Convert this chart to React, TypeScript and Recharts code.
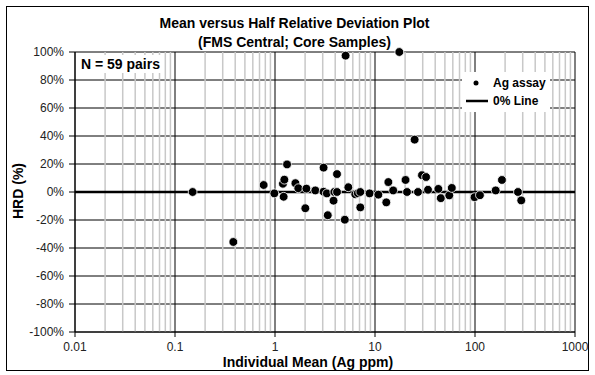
import { ScatterChart, Scatter, XAxis, YAxis, CartesianGrid, ReferenceLine, Legend } from 'recharts'

// Ag duplicate pairs: individual mean (ppm) vs half relative deviation (%)
const meanPpm = [
  0.15, 0.383, 0.77, 0.985, 1.2, 1.24, 1.22, 1.32, 1.6, 1.71,
  2.06, 2.01, 2.53, 3.06, 3.06, 3.3, 3.92, 4.17, 4.17, 3.85,
  3.37, 4.99, 5.08, 5.41, 6.35, 6.73, 7.13, 7.13, 8.83, 10.8,
  12.97, 13.6, 15.2, 17.5, 20.2, 20.9, 24.9, 26.9, 29.5, 32.4,
  33.9, 43.0, 45.5, 55.3, 58.6, 98.9, 112, 161, 186, 269, 290,
]
const hrdPct = [
  0, -35.7, 5.0, -1.0, 5.9, 8.8, -3.4, 19.7, 6.3, 2.7,
  2.4, -11.6, 1.1, 17.4, 0.2, -1.0, 0, 0, 12.8, -6.2,
  -16.6, -19.8, 97.4, 3.4, -1.6, -0.9, 0, -11.0, -1.0, -1.9,
  -7.4, 7.1, 1.1, 100, 8.6, 0, 37.4, 0, 12.0, 10.7,
  1.6, 2.2, -4.4, -2.4, 2.9, -3.7, -2.3, 1.1, 8.6, 0, -6.0,
]

const xTicks = [0.01, 0.1, 1, 10, 100, 1000]
const yTicks = [-100, -80, -60, -40, -20, 0, 20, 40, 60, 80, 100]
const decades = [0.01, 0.1, 1, 10, 100]
const steps = [2, 3, 4, 5, 6, 7, 8, 9]
const minorTicks = decades.flatMap((d) => steps.map((s) => +(d * s).toPrecision(3)))

const legendItems = [
  { label: 'Ag assay', kind: 'dot' },
  { label: '0% Line', kind: 'line' },
]

const points = meanPpm.map((m, i) => ({ mean: m, hrd: hrdPct[i] }))

const font = '"Liberation Sans", Arial, sans-serif'

const Dot = (props: any) => (
  <circle cx={props.cx} cy={props.cy} r={4.4} fill="#000" stroke="#fff" strokeWidth={0.8} />
)

const LegendBox = () => (
  <div style={{ background: '#fff', fontFamily: font, fontWeight: 'bold', fontSize: 12, padding: '2px 4px' }}>
    {legendItems.map((it) => (
      <div key={it.label} style={{ display: 'flex', alignItems: 'center', height: 18 }}>
        <svg width={24} height={10} style={{ marginRight: 3 }}>
          {it.kind === 'dot' ? (
            <circle cx={10} cy={5} r={2.5} fill="#000" />
          ) : (
            <line x1={0} y1={5} x2={22} y2={5} stroke="#000" strokeWidth={2.5} />
          )}
        </svg>
        <span>{it.label}</span>
      </div>
    ))}
  </div>
)

export default function App() {
  return (
    <div style={{ position: 'relative', width: 595, height: 375, background: '#fff', fontFamily: font }}>
      <style>{'body{margin:0}'}</style>
      <div style={{ position: 'absolute', left: 6, top: 6, width: 581, height: 363, border: '1.5px solid #000' }} />
      <ScatterChart width={595} height={375} margin={{ top: 52, right: 20, bottom: 3, left: 15 }}>
        {minorTicks.map((v) => (
          <ReferenceLine key={v} x={v} stroke="#c8c8c8" strokeWidth={1.5} />
        ))}
        <CartesianGrid stroke="#000" strokeWidth={1} />
        <XAxis
          type="number"
          dataKey="mean"
          scale="log"
          domain={[0.01, 1000]}
          ticks={xTicks}
          allowDataOverflow
          height={40}
          tickSize={5}
          tickMargin={5}
          stroke="#000"
          tick={{ fill: '#222', fontSize: 12, fontFamily: font }}
        />
        <YAxis
          type="number"
          dataKey="hrd"
          domain={[-100, 100]}
          ticks={yTicks}
          width={60}
          tickSize={6}
          tickMargin={5}
          stroke="#000"
          tickFormatter={(v: number) => `${v}%`}
          tick={{ fill: '#222', fontSize: 12, fontFamily: font }}
        />
        <ReferenceLine y={0} stroke="#000" strokeWidth={2.5} />
        <Scatter data={points} shape={Dot} isAnimationActive={false} />
        <Legend
          layout="horizontal"
          verticalAlign="middle"
          align="center"
          wrapperStyle={{ left: 462, top: 72, width: 'auto' }}
          content={<LegendBox />}
        />
      </ScatterChart>
      <div style={{ position: 'absolute', left: 0, width: 589, top: 14, textAlign: 'center', fontWeight: 'bold', fontSize: 14, lineHeight: '19px' }}>
        Mean versus Half Relative Deviation Plot
        <br />
        (FMS Central; Core Samples)
      </div>
      <div style={{ position: 'absolute', left: 77, top: 55, background: '#fff', fontWeight: 'bold', fontSize: 14, padding: '1px 4px' }}>
        N = 59 pairs
      </div>
      <div style={{ position: 'absolute', left: 208, width: 200, top: 354, textAlign: 'center', fontWeight: 'bold', fontSize: 14 }}>
        Individual Mean (Ag ppm)
      </div>
      <div style={{ position: 'absolute', left: -32, width: 100, top: 183, textAlign: 'center', fontWeight: 'bold', fontSize: 14, transform: 'rotate(-90deg)' }}>
        HRD (%)
      </div>
    </div>
  )
}
